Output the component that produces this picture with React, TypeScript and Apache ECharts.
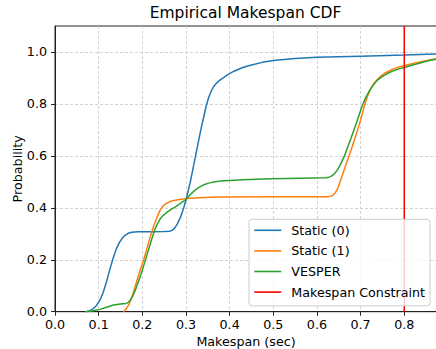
import React, { useEffect, useRef } from 'react';
import * as echarts from 'echarts';

const xTicks = [0, 0.1, 0.2, 0.3, 0.4, 0.5, 0.6, 0.7, 0.8];
const yTicks = [0, 0.2, 0.4, 0.6, 0.8, 1.0];

const seriesNames = ['Static (0)', 'Static (1)', 'VESPER', 'Makespan Constraint'];

const static0X = [0.072, 0.08, 0.088, 0.095, 0.103, 0.11, 0.118, 0.126, 0.133, 0.14, 0.147, 0.154, 0.161, 0.168, 0.176, 0.19, 0.22, 0.25, 0.262, 0.268, 0.274, 0.28, 0.287, 0.294, 0.3, 0.31, 0.322, 0.334, 0.346, 0.352, 0.358, 0.364, 0.37, 0.377, 0.385, 0.395, 0.41, 0.43, 0.45, 0.475, 0.5, 0.55, 0.6, 0.7, 0.8, 0.875];
const static0Y = [0, 0.004, 0.012, 0.024, 0.045, 0.072, 0.115, 0.165, 0.205, 0.24, 0.265, 0.283, 0.295, 0.302, 0.306, 0.308, 0.308, 0.309, 0.31, 0.313, 0.322, 0.337, 0.362, 0.395, 0.43, 0.5, 0.6, 0.7, 0.79, 0.825, 0.85, 0.868, 0.88, 0.891, 0.9, 0.912, 0.926, 0.94, 0.95, 0.96, 0.967, 0.975, 0.98, 0.984, 0.988, 0.992];

const static1X = [0.157, 0.163, 0.17, 0.178, 0.188, 0.196, 0.203, 0.21, 0.218, 0.226, 0.234, 0.241, 0.248, 0.255, 0.262, 0.272, 0.285, 0.302, 0.34, 0.38, 0.5, 0.625, 0.632, 0.637, 0.642, 0.647, 0.654, 0.662, 0.678, 0.693, 0.702, 0.71, 0.716, 0.723, 0.73, 0.738, 0.746, 0.754, 0.765, 0.775, 0.788, 0.8, 0.815, 0.83, 0.855, 0.875];
const static1Y = [0, 0.01, 0.03, 0.065, 0.122, 0.165, 0.199, 0.24, 0.288, 0.33, 0.365, 0.392, 0.408, 0.417, 0.423, 0.428, 0.432, 0.436, 0.44, 0.442, 0.443, 0.443, 0.445, 0.449, 0.458, 0.472, 0.505, 0.545, 0.622, 0.699, 0.75, 0.8, 0.83, 0.858, 0.878, 0.894, 0.906, 0.917, 0.927, 0.935, 0.942, 0.947, 0.954, 0.96, 0.968, 0.975];

const vesperX = [0.069, 0.085, 0.103, 0.12, 0.134, 0.15, 0.163, 0.168, 0.173, 0.178, 0.184, 0.192, 0.2, 0.214, 0.222, 0.23, 0.236, 0.242, 0.248, 0.256, 0.266, 0.276, 0.288, 0.3, 0.31, 0.32, 0.33, 0.341, 0.35, 0.36, 0.379, 0.43, 0.494, 0.563, 0.62, 0.628, 0.635, 0.641, 0.647, 0.654, 0.662, 0.67, 0.678, 0.69, 0.7, 0.706, 0.712, 0.718, 0.723, 0.73, 0.738, 0.746, 0.754, 0.765, 0.775, 0.788, 0.8, 0.815, 0.83, 0.855, 0.875];
const vesperY = [0, 0.003, 0.009, 0.018, 0.026, 0.03, 0.032, 0.036, 0.045, 0.06, 0.083, 0.12, 0.16, 0.237, 0.282, 0.322, 0.343, 0.36, 0.371, 0.382, 0.394, 0.404, 0.418, 0.432, 0.451, 0.467, 0.479, 0.489, 0.494, 0.498, 0.503, 0.508, 0.512, 0.514, 0.516, 0.518, 0.524, 0.533, 0.546, 0.567, 0.596, 0.632, 0.668, 0.725, 0.775, 0.802, 0.825, 0.844, 0.858, 0.875, 0.89, 0.901, 0.91, 0.92, 0.928, 0.935, 0.94, 0.948, 0.955, 0.966, 0.973];

const constraintX = 0.8;
const constraintY = [0, 1.1];

const zip = (xs: number[], ys: number[]) => xs.map((x, i) => [x, ys[i]]);

export default function App() {
  const ref = useRef<HTMLDivElement>(null);
  useEffect(() => {
    const chart = echarts.init(ref.current!, null, { renderer: 'svg' });
    const font = 'DejaVu Sans';
    const fs = 12.7;
    const colors = ['#1f77b4', '#ff7f0e', '#2ca02c', '#ff0000'];
    const curves = [zip(static0X, static0Y), zip(static1X, static1Y), zip(vesperX, vesperY)];
    chart.setOption({
      animation: false,
      textStyle: { fontFamily: font },
      title: {
        text: 'Empirical Makespan CDF',
        left: 245.5,
        top: 5,
        padding: 0,
        textAlign: 'center',
        textStyle: { fontSize: 15.5, fontWeight: 'normal', color: '#000', fontFamily: font },
      },
      grid: {
        left: 55,
        top: 26,
        right: -1,
        bottom: 37.3,
        show: true,
        borderColor: '#222',
        borderWidth: 1,
        containLabel: false,
        outerBoundsMode: 'none',
      },
      legend: {
        orient: 'vertical',
        left: 249,
        top: 219.3,
        padding: [4, 5, 6.8, 5.3],
        itemWidth: 27,
        itemHeight: 1.6,
        itemGap: 6.6,
        z: 20,
        icon: 'rect',
        backgroundColor: 'rgba(255,255,255,0.8)',
        borderColor: '#cccccc',
        borderWidth: 1,
        borderRadius: 3,
        textStyle: { fontSize: fs, color: '#000', fontFamily: font, padding: [0, 0, 0, 5], lineHeight: 14, height: 14 },
        data: seriesNames,
      },
      xAxis: {
        type: 'value',
        min: 0,
        max: 0.875,
        interval: 0.1,
        name: 'Makespan (sec)',
        nameLocation: 'middle',
        nameGap: 23,
        nameMoveOverlap: false,
        nameTextStyle: { fontSize: fs, color: '#000', fontFamily: font },
        axisLine: { show: true, lineStyle: { color: '#222', width: 1 } },
        axisTick: { show: true, length: 4, inside: false, lineStyle: { color: '#222' }, customValues: xTicks },
        axisLabel: {
          fontSize: fs,
          color: '#000',
          fontFamily: font,
          margin: 6,
          customValues: xTicks,
          formatter: (v: number) => v.toFixed(1),
        },
        splitLine: { show: true, lineStyle: { color: '#c8c8c8', width: 0.8, type: [3, 2] } },
      },
      yAxis: {
        type: 'value',
        min: 0,
        max: 1.1,
        interval: 0.2,
        name: 'Probability',
        nameLocation: 'middle',
        nameGap: 31,
        nameMoveOverlap: false,
        nameTextStyle: { fontSize: fs, color: '#000', fontFamily: font },
        axisLine: { show: true, lineStyle: { color: '#222', width: 1 } },
        axisTick: { show: true, length: 4, inside: false, lineStyle: { color: '#222' }, customValues: yTicks },
        axisLabel: {
          fontSize: fs,
          color: '#000',
          fontFamily: font,
          margin: 8,
          customValues: yTicks,
          formatter: (v: number) => v.toFixed(1),
        },
        splitLine: { show: true, lineStyle: { color: '#c8c8c8', width: 0.8, type: [3, 2] } },
      },
      series: [
        ...curves.map((d, i) => ({
          name: seriesNames[i],
          type: 'line',
          data: d,
          symbol: 'none',
          color: colors[i],
          lineStyle: { color: colors[i], width: 1.5 },
          z: 3 + i,
        })),
        {
          name: seriesNames[3],
          type: 'line',
          data: constraintY.map((y) => [constraintX, y]),
          symbol: 'none',
          color: colors[3],
          lineStyle: { color: colors[3], width: 1.5 },
          z: 8,
        },
      ],
    });
    return () => chart.dispose();
  }, []);
  return <div ref={ref} style={{ position: 'absolute', left: 0, top: 0, width: 436, height: 349 }} />;
}
